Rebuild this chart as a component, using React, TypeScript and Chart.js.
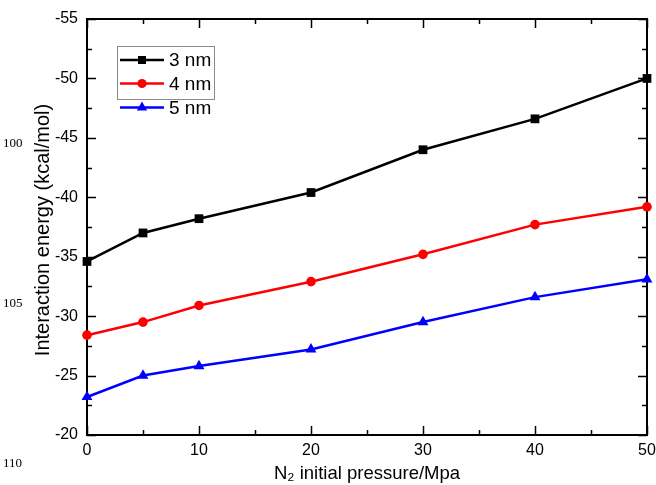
import React, { useEffect, useRef } from "react";
import { Chart, registerables } from "chart.js";

Chart.register(...registerables);

const pressures = [0, 5, 10, 20, 30, 40, 50];
const energy3nm = [-34.6, -37.0, -38.2, -40.4, -44.0, -46.6, -50.0];
const energy4nm = [-28.4, -29.5, -30.9, -32.9, -35.2, -37.7, -39.2];
const energy5nm = [-23.2, -25.0, -25.8, -27.2, -29.5, -31.6, -33.1];
const seriesLabels = ["3 nm", "4 nm", "5 nm"];
const seriesColors = ["#000000", "#ff0000", "#0000ff"];
const seriesMarkers = ["rect", "circle", "triangle"];
const marginNumbers = ["100", "105", "110"];
const xTitle = "N\u2082 initial pressure/Mpa";
const yTitle = "Interaction energy (kcal/mol)";

const FONT = "'Liberation Sans', Arial, sans-serif";

function drawMarker(ctx: CanvasRenderingContext2D, kind: string, x: number, y: number, color: string) {
  ctx.save();
  ctx.fillStyle = color;
  ctx.beginPath();
  if (kind === "rect") {
    ctx.rect(x - 4, y - 4, 8, 8);
  } else if (kind === "circle") {
    ctx.arc(x, y, 4.6, 0, Math.PI * 2);
  } else {
    const r = 6;
    ctx.moveTo(x, y - r);
    ctx.lineTo(x + r * 0.866, y + r * 0.5);
    ctx.lineTo(x - r * 0.866, y + r * 0.5);
    ctx.closePath();
  }
  ctx.fill();
  ctx.restore();
}

const framePlugin = {
  id: "frame",
  beforeDatasetsDraw(chart: any) {
    const { ctx, chartArea } = chart;
    const { left, right, top, bottom } = chartArea;
    const xs = chart.scales.x;
    const ys = chart.scales.y;
    ctx.save();
    ctx.strokeStyle = "#000";
    ctx.lineWidth = 2;
    ctx.strokeRect(left, top, right - left, bottom - top);
    ctx.lineWidth = 1.5;
    for (let v = 0; v <= 50; v += 5) {
      const px = Math.round(xs.getPixelForValue(v)) + 0.5;
      const len = v % 10 === 0 ? 9 : 5;
      ctx.beginPath();
      ctx.moveTo(px, bottom);
      ctx.lineTo(px, bottom - len);
      ctx.moveTo(px, top);
      ctx.lineTo(px, top + len);
      ctx.stroke();
    }
    for (let v = -55; v <= -20; v += 2.5) {
      const py = Math.round(ys.getPixelForValue(v)) + 0.5;
      const len = v % 5 === 0 ? 9 : 5;
      ctx.beginPath();
      ctx.moveTo(left, py);
      ctx.lineTo(left + len, py);
      ctx.moveTo(right, py);
      ctx.lineTo(right - len, py);
      ctx.stroke();
    }
    ctx.restore();
  },
  afterDraw(chart: any) {
    const { ctx } = chart;
    ctx.save();
    // y-axis title
    ctx.save();
    ctx.translate(43, 230);
    ctx.rotate(-Math.PI / 2);
    ctx.font = `20px ${FONT}`;
    ctx.fillStyle = "#000";
    ctx.textAlign = "center";
    ctx.textBaseline = "middle";
    ctx.fillText(yTitle, 0, 0);
    ctx.restore();
    // legend
    ctx.strokeStyle = "#8a8a8a";
    ctx.lineWidth = 1;
    ctx.strokeRect(117.5, 46.5, 97, 53);
    const rows = [60, 83.5, 107.5];
    ctx.font = `19px ${FONT}`;
    ctx.textBaseline = "middle";
    ctx.textAlign = "left";
    seriesLabels.forEach((lab, i) => {
      ctx.strokeStyle = seriesColors[i];
      ctx.lineWidth = 2.5;
      ctx.beginPath();
      ctx.moveTo(120, rows[i]);
      ctx.lineTo(164, rows[i]);
      ctx.stroke();
      drawMarker(ctx, seriesMarkers[i], 142, rows[i], seriesColors[i]);
      ctx.fillStyle = "#000";
      ctx.fillText(lab, 169, rows[i] + 1);
    });
    // margin numbers
    ctx.font = `13px 'Liberation Serif', 'Times New Roman', serif`;
    ctx.fillStyle = "#000";
    ctx.textAlign = "left";
    const ys = [144, 304, 464];
    marginNumbers.forEach((n, i) => ctx.fillText(n, 3, ys[i]));
    ctx.restore();
  },
};

export default function App() {
  const ref = useRef<HTMLCanvasElement | null>(null);
  useEffect(() => {
    document.body.style.margin = "0";
    const canvas = ref.current!;
    const mk = (vals: number[]) => pressures.map((p, i) => ({ x: p, y: vals[i] }));
    const all = [energy3nm, energy4nm, energy5nm];
    const chart = new Chart(canvas, {
      type: "line",
      data: {
        datasets: all.map((vals, i) => ({
          label: seriesLabels[i],
          data: mk(vals),
          borderColor: seriesColors[i],
          backgroundColor: seriesColors[i],
          borderWidth: 2.5,
          pointStyle: seriesMarkers[i] as any,
          pointRadius: i === 0 ? 6.2 : i === 1 ? 4.8 : 6.3,
          pointBorderWidth: 0,
          tension: 0,
          clip: false as any,
        })),
      },
      options: {
        animation: false,
        responsive: false,
        layout: { padding: { top: 19, right: 9, left: 0, bottom: 0 } },
        plugins: { legend: { display: false }, tooltip: { enabled: false } },
        scales: {
          x: {
            type: "linear",
            min: 0,
            max: 50,
            grid: { display: false, drawTicks: false },
            border: { display: false },
            ticks: { stepSize: 10, padding: 6, color: "#000", font: { family: FONT, size: 16 } },
            title: {
              display: true,
              text: xTitle,
              color: "#000",
              font: { family: FONT, size: 18.5 },
              padding: { top: 0, bottom: 0 },
            },
            afterFit: (s: any) => {
              s.height = 50;
              s.paddingLeft = 0;
              s.paddingRight = 0;
            },
          },
          y: {
            type: "linear",
            min: -55,
            max: -20,
            reverse: true,
            grid: { display: false, drawTicks: false },
            border: { display: false },
            ticks: { stepSize: 5, padding: 9, color: "#000", font: { family: FONT, size: 16 } },
            title: { display: false },
            afterFit: (s: any) => {
              s.width = 87;
              s.paddingTop = 0;
              s.paddingBottom = 0;
            },
          },
        },
      },
      plugins: [framePlugin],
    });
    return () => chart.destroy();
  }, []);
  return (
    <div style={{ position: "absolute", left: 0, top: 0, width: 656, height: 485, background: "#fff" }}>
      <canvas ref={ref} width={656} height={485} />
    </div>
  );
}
